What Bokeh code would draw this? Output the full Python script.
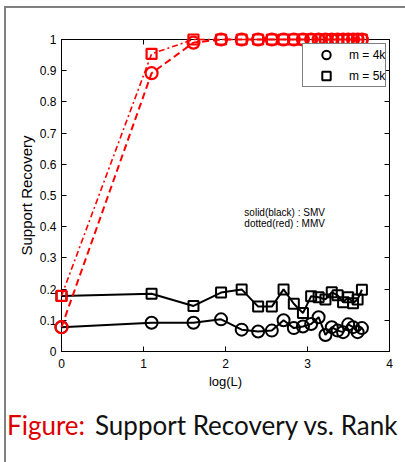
import numpy as np
from bokeh.plotting import figure
from bokeh.layouts import column
from bokeh.models import (Range1d, LinearAxis, FixedTicker, Label, Legend,
                          LegendItem, PrintfTickFormatter, Div)
from bokeh.embed import file_html
from bokeh.resources import INLINE

# ---- data -------------------------------------------------------------
L_values = [1, 3, 5, 7, 9, 11, 13, 15, 17, 19, 21, 23, 25, 27, 29, 31, 33, 35, 37, 39]
smv_4k = [0.078, 0.092, 0.092, 0.103, 0.070, 0.064, 0.067, 0.100, 0.075, 0.080,
          0.088, 0.110, 0.053, 0.078, 0.067, 0.062, 0.087, 0.078, 0.062, 0.075]
smv_5k = [0.178, 0.185, 0.146, 0.189, 0.199, 0.144, 0.144, 0.199, 0.153, 0.123,
          0.177, 0.174, 0.167, 0.190, 0.180, 0.158, 0.174, 0.155, 0.167, 0.198]
mmv_4k = [0.078, 0.892, 0.990, 1.0, 1.0, 1.0, 1.0, 1.0, 1.0, 1.0,
          1.0, 1.0, 1.0, 1.0, 1.0, 1.0, 1.0, 1.0, 1.0, 1.0]
mmv_5k = [0.178, 0.954, 1.0, 1.0, 1.0, 1.0, 1.0, 1.0, 1.0, 1.0,
          1.0, 1.0, 1.0, 1.0, 1.0, 1.0, 1.0, 1.0, 1.0, 1.0]
x_ticks = [0, 1, 2, 3, 4]
y_ticks = [0, 0.1, 0.2, 0.3, 0.4, 0.5, 0.6, 0.7, 0.8, 0.9, 1]
legend_labels = ["m = 4k", "m = 5k"]
note_lines = ["solid(black) : SMV", "dotted(red)  : MMV"]
caption_head = "Figure:"
caption_body = "Support Recovery vs. Rank"

logL = np.log(np.array(L_values, dtype=float))

AX_FONT = "Liberation Sans"

p = figure(width=399, height=392, x_range=Range1d(0, 4), y_range=Range1d(0, 1),
           output_backend="svg", toolbar_location=None,
           min_border_left=55, min_border_right=16, min_border_top=31,
           min_border_bottom=49)
p.xgrid.visible = False
p.ygrid.visible = False
p.outline_line_color = "black"
p.outline_line_width = 1
p.background_fill_color = "white"
p.border_fill_color = "white"

def style_axis(ax, show_labels=True):
    ax.axis_line_color = "black"
    ax.major_tick_in = 5
    ax.major_tick_out = 0
    ax.minor_tick_line_color = None
    ax.major_tick_line_color = "black"
    ax.major_label_text_font = AX_FONT
    if show_labels:
        ax.major_label_text_font_size = "12px"
        ax.major_label_text_color = "black"
    else:
        ax.major_label_text_font_size = "1px"
        ax.major_label_text_color = None
        ax.major_label_standoff = 0

p.xaxis.ticker = FixedTicker(ticks=x_ticks)
p.yaxis.ticker = FixedTicker(ticks=y_ticks)
p.yaxis.formatter = PrintfTickFormatter(format="%g")
p.xaxis.formatter = PrintfTickFormatter(format="%g")
style_axis(p.xaxis[0])
style_axis(p.yaxis[0])
p.xaxis.major_label_standoff = 7
p.yaxis.major_label_standoff = 5
p.xaxis.axis_label = "log(L)"
p.yaxis.axis_label = "Support Recovery"
for ax in (p.xaxis[0], p.yaxis[0]):
    ax.axis_label_text_font = AX_FONT
    ax.axis_label_text_font_style = "normal"
    ax.axis_label_text_color = "black"
    ax.axis_label_standoff = 3
p.xaxis.axis_label_text_font_size = "13px"
p.yaxis.axis_label_text_font_size = "15px"
p.yaxis.axis_label_standoff = 2

top_ax = LinearAxis(ticker=FixedTicker(ticks=x_ticks))
right_ax = LinearAxis(ticker=FixedTicker(ticks=y_ticks))
style_axis(top_ax, False)
style_axis(right_ax, False)
p.add_layout(top_ax, "above")
p.add_layout(right_ax, "right")

# ---- series -----------------------------------------------------------
p.line(logL, smv_4k, line_color="black", line_width=2, level="annotation")
p.scatter(logL, smv_4k, marker="circle", size=12, line_color="black", line_width=2,
          fill_color=None, level="annotation")
p.line(logL, smv_5k, line_color="black", line_width=2, level="annotation")
p.scatter(logL, smv_5k, marker="square", size=10, line_color="black", line_width=2,
          fill_color=None, level="annotation")

p.line(logL, mmv_4k, line_color="#ff0000", line_width=2, line_dash="7 4",
       level="annotation")
p.scatter(logL, mmv_4k, marker="circle", size=12, line_color="#ff0000", line_width=2.2,
          fill_color=None, level="annotation")
p.line(logL, mmv_5k, line_color="#ff0000", line_width=1.6, line_dash="6 3 2 3",
       level="annotation")
p.scatter(logL, mmv_5k, marker="square", size=10, line_color="#ff0000", line_width=2.2,
          fill_color=None, level="annotation")

# legend (marker-only entries, black); dummy renderers hold no visible point
leg_c = p.scatter(x=[np.nan], y=[np.nan], marker="circle", size=12, line_color="black",
                  line_width=2, fill_color=None)
leg_s = p.scatter(x=[np.nan], y=[np.nan], marker="square", size=10, line_color="black",
                  line_width=2, fill_color=None)
legend = Legend(items=[LegendItem(label=legend_labels[0], renderers=[leg_c]),
                       LegendItem(label=legend_labels[1], renderers=[leg_s])],
                location=(241, 264), padding=0, margin=0, spacing=0,
                glyph_width=46, glyph_height=21, label_height=21,
                label_standoff=0, label_text_font=AX_FONT,
                label_text_font_size="12px", label_text_color="black",
                border_line_color="black", border_line_width=1,
                background_fill_color="white", background_fill_alpha=1)
p.add_layout(legend)

# annotation text
note_y = [0.445, 0.41]
for i, t in enumerate(note_lines):
    p.add_layout(Label(x=2.23, y=note_y[i], text=t, text_font=AX_FONT,
                       text_font_size="10px", text_color="black",
                       text_baseline="middle", text_align="left"))

# caption strip (HTML text)
cap_html = (
    '<div style="font-family:Lato, sans-serif; font-size:26px; line-height:30px; '
    'padding-top:10px; padding-left:1px; white-space:nowrap;">'
    f'<span style="display:inline-block; width:88px; color:#dd0000;">{caption_head}</span>'
    f'<span style="color:#111111;">{caption_body}</span></div>'
)
cap = Div(text=cap_html, width=399, height=62, margin=0)

layout = column(p, cap, spacing=0)
layout.styles = {"margin-left": "4px", "margin-top": "6px",
                 "border-left": "2px solid #808080", "border-top": "2px solid #808080"}

open("out.html", "w").write(file_html(layout, INLINE))
